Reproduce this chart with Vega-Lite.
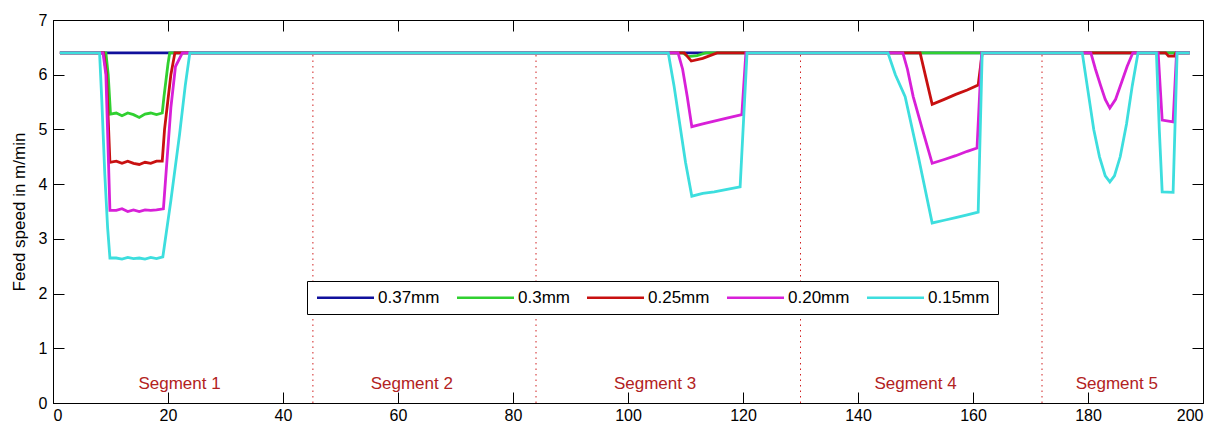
{
  "$schema": "https://vega.github.io/schema/vega-lite/v6.json",
  "width": 1150,
  "height": 383,
  "autosize": {"type": "none"},
  "padding": {"left": 53, "top": 20, "right": 25, "bottom": 23},
  "background": "white",
  "config": {
    "view": {"stroke": "black", "strokeWidth": 1},
    "font": "Liberation Sans",
    "axis": {
      "grid": false,
      "domainColor": "black",
      "tickColor": "black",
      "tickSize": -11,
      "labelColor": "black",
      "labelFont": "Liberation Sans",
      "labelFontSize": 16,
      "titleFont": "Liberation Sans",
      "titleFontWeight": "normal",
      "titleFontSize": 17,
      "titleColor": "black"
    }
  },
  "datasets": {
    "lines": [
      {"s": "0.37mm", "o": 1, "x": 1.2, "y": 6.4},
      {"s": "0.37mm", "o": 1, "x": 197.7, "y": 6.4},

      {"s": "0.3mm", "o": 2, "x": 1.2, "y": 6.4},
      {"s": "0.3mm", "o": 2, "x": 9.2, "y": 6.4},
      {"s": "0.3mm", "o": 2, "x": 9.6, "y": 6.0},
      {"s": "0.3mm", "o": 2, "x": 10.0, "y": 5.28},
      {"s": "0.3mm", "o": 2, "x": 11, "y": 5.3},
      {"s": "0.3mm", "o": 2, "x": 12, "y": 5.25},
      {"s": "0.3mm", "o": 2, "x": 13, "y": 5.3},
      {"s": "0.3mm", "o": 2, "x": 14, "y": 5.27},
      {"s": "0.3mm", "o": 2, "x": 15, "y": 5.22},
      {"s": "0.3mm", "o": 2, "x": 16, "y": 5.28},
      {"s": "0.3mm", "o": 2, "x": 17, "y": 5.3},
      {"s": "0.3mm", "o": 2, "x": 18, "y": 5.27},
      {"s": "0.3mm", "o": 2, "x": 19, "y": 5.3},
      {"s": "0.3mm", "o": 2, "x": 19.3, "y": 5.6},
      {"s": "0.3mm", "o": 2, "x": 20.0, "y": 6.2},
      {"s": "0.3mm", "o": 2, "x": 20.3, "y": 6.4},
      {"s": "0.3mm", "o": 2, "x": 109.5, "y": 6.4},
      {"s": "0.3mm", "o": 2, "x": 110.5, "y": 6.33},
      {"s": "0.3mm", "o": 2, "x": 112, "y": 6.35},
      {"s": "0.3mm", "o": 2, "x": 113.5, "y": 6.4},
      {"s": "0.3mm", "o": 2, "x": 197.7, "y": 6.4},

      {"s": "0.25mm", "o": 3, "x": 1.2, "y": 6.4},
      {"s": "0.25mm", "o": 3, "x": 8.8, "y": 6.4},
      {"s": "0.25mm", "o": 3, "x": 9.3, "y": 6.0},
      {"s": "0.25mm", "o": 3, "x": 9.9, "y": 4.4},
      {"s": "0.25mm", "o": 3, "x": 11, "y": 4.42},
      {"s": "0.25mm", "o": 3, "x": 12, "y": 4.38},
      {"s": "0.25mm", "o": 3, "x": 13, "y": 4.42},
      {"s": "0.25mm", "o": 3, "x": 14, "y": 4.38},
      {"s": "0.25mm", "o": 3, "x": 15, "y": 4.36},
      {"s": "0.25mm", "o": 3, "x": 16, "y": 4.4},
      {"s": "0.25mm", "o": 3, "x": 17, "y": 4.38},
      {"s": "0.25mm", "o": 3, "x": 18, "y": 4.42},
      {"s": "0.25mm", "o": 3, "x": 19, "y": 4.42},
      {"s": "0.25mm", "o": 3, "x": 19.4, "y": 5.0},
      {"s": "0.25mm", "o": 3, "x": 20.5, "y": 6.0},
      {"s": "0.25mm", "o": 3, "x": 21.2, "y": 6.4},
      {"s": "0.25mm", "o": 3, "x": 109.8, "y": 6.4},
      {"s": "0.25mm", "o": 3, "x": 111, "y": 6.25},
      {"s": "0.25mm", "o": 3, "x": 113, "y": 6.3},
      {"s": "0.25mm", "o": 3, "x": 115.5, "y": 6.4},
      {"s": "0.25mm", "o": 3, "x": 150.8, "y": 6.4},
      {"s": "0.25mm", "o": 3, "x": 152.9, "y": 5.46},
      {"s": "0.25mm", "o": 3, "x": 155, "y": 5.55},
      {"s": "0.25mm", "o": 3, "x": 157, "y": 5.64},
      {"s": "0.25mm", "o": 3, "x": 159, "y": 5.72},
      {"s": "0.25mm", "o": 3, "x": 160.9, "y": 5.81},
      {"s": "0.25mm", "o": 3, "x": 161.6, "y": 6.4},
      {"s": "0.25mm", "o": 3, "x": 193.5, "y": 6.4},
      {"s": "0.25mm", "o": 3, "x": 194, "y": 6.34},
      {"s": "0.25mm", "o": 3, "x": 195, "y": 6.34},
      {"s": "0.25mm", "o": 3, "x": 195.3, "y": 6.4},
      {"s": "0.25mm", "o": 3, "x": 197.7, "y": 6.4},

      {"s": "0.20mm", "o": 4, "x": 1.2, "y": 6.4},
      {"s": "0.20mm", "o": 4, "x": 8.7, "y": 6.4},
      {"s": "0.20mm", "o": 4, "x": 9.2, "y": 6.0},
      {"s": "0.20mm", "o": 4, "x": 9.9, "y": 3.52},
      {"s": "0.20mm", "o": 4, "x": 11, "y": 3.52},
      {"s": "0.20mm", "o": 4, "x": 12, "y": 3.55},
      {"s": "0.20mm", "o": 4, "x": 13, "y": 3.5},
      {"s": "0.20mm", "o": 4, "x": 14, "y": 3.53},
      {"s": "0.20mm", "o": 4, "x": 15, "y": 3.5},
      {"s": "0.20mm", "o": 4, "x": 16, "y": 3.53},
      {"s": "0.20mm", "o": 4, "x": 17, "y": 3.52},
      {"s": "0.20mm", "o": 4, "x": 18, "y": 3.53},
      {"s": "0.20mm", "o": 4, "x": 19.2, "y": 3.55},
      {"s": "0.20mm", "o": 4, "x": 20.5, "y": 5.4},
      {"s": "0.20mm", "o": 4, "x": 21.3, "y": 6.15},
      {"s": "0.20mm", "o": 4, "x": 22.5, "y": 6.4},
      {"s": "0.20mm", "o": 4, "x": 108.7, "y": 6.4},
      {"s": "0.20mm", "o": 4, "x": 109.5, "y": 6.1},
      {"s": "0.20mm", "o": 4, "x": 110.3, "y": 5.6},
      {"s": "0.20mm", "o": 4, "x": 111.1, "y": 5.05},
      {"s": "0.20mm", "o": 4, "x": 113, "y": 5.1},
      {"s": "0.20mm", "o": 4, "x": 115, "y": 5.15},
      {"s": "0.20mm", "o": 4, "x": 117, "y": 5.2},
      {"s": "0.20mm", "o": 4, "x": 119.8, "y": 5.27},
      {"s": "0.20mm", "o": 4, "x": 120.5, "y": 6.4},
      {"s": "0.20mm", "o": 4, "x": 147.8, "y": 6.4},
      {"s": "0.20mm", "o": 4, "x": 148.6, "y": 6.1},
      {"s": "0.20mm", "o": 4, "x": 149.6, "y": 5.6},
      {"s": "0.20mm", "o": 4, "x": 151.2, "y": 5.0},
      {"s": "0.20mm", "o": 4, "x": 152.9, "y": 4.38},
      {"s": "0.20mm", "o": 4, "x": 155, "y": 4.45},
      {"s": "0.20mm", "o": 4, "x": 157, "y": 4.52},
      {"s": "0.20mm", "o": 4, "x": 159, "y": 4.6},
      {"s": "0.20mm", "o": 4, "x": 160.7, "y": 4.66},
      {"s": "0.20mm", "o": 4, "x": 161.5, "y": 6.4},
      {"s": "0.20mm", "o": 4, "x": 180.5, "y": 6.4},
      {"s": "0.20mm", "o": 4, "x": 181.3, "y": 6.1},
      {"s": "0.20mm", "o": 4, "x": 182.2, "y": 5.8},
      {"s": "0.20mm", "o": 4, "x": 183, "y": 5.55},
      {"s": "0.20mm", "o": 4, "x": 183.8, "y": 5.39},
      {"s": "0.20mm", "o": 4, "x": 184.8, "y": 5.55},
      {"s": "0.20mm", "o": 4, "x": 185.8, "y": 5.85},
      {"s": "0.20mm", "o": 4, "x": 186.8, "y": 6.15},
      {"s": "0.20mm", "o": 4, "x": 187.8, "y": 6.4},
      {"s": "0.20mm", "o": 4, "x": 192.2, "y": 6.4},
      {"s": "0.20mm", "o": 4, "x": 192.9, "y": 5.17},
      {"s": "0.20mm", "o": 4, "x": 194.8, "y": 5.14},
      {"s": "0.20mm", "o": 4, "x": 195.4, "y": 6.4},
      {"s": "0.20mm", "o": 4, "x": 197.7, "y": 6.4},

      {"s": "0.15mm", "o": 5, "x": 1.2, "y": 6.4},
      {"s": "0.15mm", "o": 5, "x": 8.1, "y": 6.4},
      {"s": "0.15mm", "o": 5, "x": 8.5, "y": 5.5},
      {"s": "0.15mm", "o": 5, "x": 9.0, "y": 4.2},
      {"s": "0.15mm", "o": 5, "x": 9.5, "y": 3.2},
      {"s": "0.15mm", "o": 5, "x": 9.9, "y": 2.65},
      {"s": "0.15mm", "o": 5, "x": 11, "y": 2.65},
      {"s": "0.15mm", "o": 5, "x": 12, "y": 2.63},
      {"s": "0.15mm", "o": 5, "x": 13, "y": 2.66},
      {"s": "0.15mm", "o": 5, "x": 14, "y": 2.64},
      {"s": "0.15mm", "o": 5, "x": 15, "y": 2.65},
      {"s": "0.15mm", "o": 5, "x": 16, "y": 2.63},
      {"s": "0.15mm", "o": 5, "x": 17, "y": 2.66},
      {"s": "0.15mm", "o": 5, "x": 18, "y": 2.64},
      {"s": "0.15mm", "o": 5, "x": 19.1, "y": 2.67},
      {"s": "0.15mm", "o": 5, "x": 20.5, "y": 3.7},
      {"s": "0.15mm", "o": 5, "x": 22, "y": 4.9},
      {"s": "0.15mm", "o": 5, "x": 23, "y": 5.8},
      {"s": "0.15mm", "o": 5, "x": 23.8, "y": 6.4},
      {"s": "0.15mm", "o": 5, "x": 107, "y": 6.4},
      {"s": "0.15mm", "o": 5, "x": 108, "y": 5.8},
      {"s": "0.15mm", "o": 5, "x": 109, "y": 5.1},
      {"s": "0.15mm", "o": 5, "x": 110, "y": 4.4},
      {"s": "0.15mm", "o": 5, "x": 111.1, "y": 3.78},
      {"s": "0.15mm", "o": 5, "x": 113, "y": 3.83},
      {"s": "0.15mm", "o": 5, "x": 115, "y": 3.86},
      {"s": "0.15mm", "o": 5, "x": 117, "y": 3.9},
      {"s": "0.15mm", "o": 5, "x": 119.5, "y": 3.95},
      {"s": "0.15mm", "o": 5, "x": 120.7, "y": 6.4},
      {"s": "0.15mm", "o": 5, "x": 145.2, "y": 6.4},
      {"s": "0.15mm", "o": 5, "x": 146.5, "y": 6.0},
      {"s": "0.15mm", "o": 5, "x": 148.2, "y": 5.6},
      {"s": "0.15mm", "o": 5, "x": 150.5, "y": 4.5},
      {"s": "0.15mm", "o": 5, "x": 152.9, "y": 3.29},
      {"s": "0.15mm", "o": 5, "x": 155, "y": 3.34},
      {"s": "0.15mm", "o": 5, "x": 157, "y": 3.39},
      {"s": "0.15mm", "o": 5, "x": 159, "y": 3.44},
      {"s": "0.15mm", "o": 5, "x": 160.9, "y": 3.49},
      {"s": "0.15mm", "o": 5, "x": 161.6, "y": 6.4},
      {"s": "0.15mm", "o": 5, "x": 179, "y": 6.4},
      {"s": "0.15mm", "o": 5, "x": 180, "y": 5.7},
      {"s": "0.15mm", "o": 5, "x": 181, "y": 5.0},
      {"s": "0.15mm", "o": 5, "x": 182, "y": 4.5},
      {"s": "0.15mm", "o": 5, "x": 183, "y": 4.15},
      {"s": "0.15mm", "o": 5, "x": 183.8, "y": 4.04},
      {"s": "0.15mm", "o": 5, "x": 184.6, "y": 4.15},
      {"s": "0.15mm", "o": 5, "x": 185.6, "y": 4.5},
      {"s": "0.15mm", "o": 5, "x": 186.7, "y": 5.1},
      {"s": "0.15mm", "o": 5, "x": 187.7, "y": 5.8},
      {"s": "0.15mm", "o": 5, "x": 188.7, "y": 6.4},
      {"s": "0.15mm", "o": 5, "x": 191.9, "y": 6.4},
      {"s": "0.15mm", "o": 5, "x": 192.4, "y": 5.0},
      {"s": "0.15mm", "o": 5, "x": 192.9, "y": 3.86},
      {"s": "0.15mm", "o": 5, "x": 194.8, "y": 3.85},
      {"s": "0.15mm", "o": 5, "x": 195.5, "y": 6.4},
      {"s": "0.15mm", "o": 5, "x": 197.7, "y": 6.4}
    ],
    "dividers": [
      {"x": 45.2, "y": 0, "y2": 6.4},
      {"x": 84, "y": 0, "y2": 6.4},
      {"x": 130, "y": 0, "y2": 6.4},
      {"x": 172, "y": 0, "y2": 6.4}
    ],
    "segments": [
      {"label": "Segment 1", "x": 22, "y": 0.34},
      {"label": "Segment 2", "x": 62.4, "y": 0.34},
      {"label": "Segment 3", "x": 104.7, "y": 0.34},
      {"label": "Segment 4", "x": 150, "y": 0.34},
      {"label": "Segment 5", "x": 185, "y": 0.34}
    ]
  },
  "resolve": {"axis": {"x": "independent", "y": "independent"}},
  "layer": [
    {
      "data": {"name": "dividers"},
      "mark": {"type": "rule", "color": "#d02020", "strokeWidth": 1, "strokeDash": [1.5, 4]},
      "encoding": {
        "x": {"field": "x", "type": "quantitative", "scale": {"domain": [0, 200], "nice": false},
              "axis": {"orient": "top", "labels": false, "title": null, "values": [0,20,40,60,80,100,120,140,160,180,200], "domain": false}},
        "y": {"field": "y", "type": "quantitative", "scale": {"domain": [0, 7], "nice": false},
              "axis": {"orient": "right", "labels": false, "title": null, "values": [0,1,2,3,4,5,6,7], "domain": false}},
        "y2": {"field": "y2"}
      }
    },
    {
      "data": {"name": "lines"},
      "mark": {"type": "line", "strokeWidth": 2.8, "clip": true},
      "encoding": {
        "x": {"field": "x", "type": "quantitative", "scale": {"domain": [0, 200], "nice": false},
              "axis": {"orient": "bottom", "title": null, "values": [0,20,40,60,80,100,120,140,160,180,200], "labelPadding": 15}},
        "y": {"field": "y", "type": "quantitative", "scale": {"domain": [0, 7], "nice": false},
              "axis": {"orient": "left", "title": "Feed speed in m/min", "values": [0,1,2,3,4,5,6,7], "labelPadding": 17, "titlePadding": 10}},
        "color": {
          "field": "s", "type": "nominal",
          "scale": {"domain": ["0.37mm", "0.3mm", "0.25mm", "0.20mm", "0.15mm"],
                    "range": ["#10109c", "#30d030", "#c81010", "#d820d8", "#3ddede"]},
          "legend": {
            "title": null, "orient": "none", "direction": "horizontal",
            "legendX": 254, "legendY": 261,
            "symbolType": "M-5.7,0H5.7", "symbolSize": 100, "symbolStrokeWidth": 2.5,
            "symbolOffset": 22,
            "labelFontSize": 17, "labelFont": "Liberation Sans", "labelColor": "black",
            "labelOffset": 24, "columnPadding": 12,
            "strokeColor": "black", "fillColor": "white", "padding": 8
          }
        },
        "order": {"field": "o"},
        "detail": {"field": "s"}
      }
    },
    {
      "data": {"name": "segments"},
      "mark": {"type": "text", "color": "#b22222", "fontSize": 17, "font": "Liberation Sans"},
      "encoding": {
        "x": {"field": "x", "type": "quantitative", "axis": null},
        "y": {"field": "y", "type": "quantitative", "axis": null},
        "text": {"field": "label"}
      }
    }
  ]
}
